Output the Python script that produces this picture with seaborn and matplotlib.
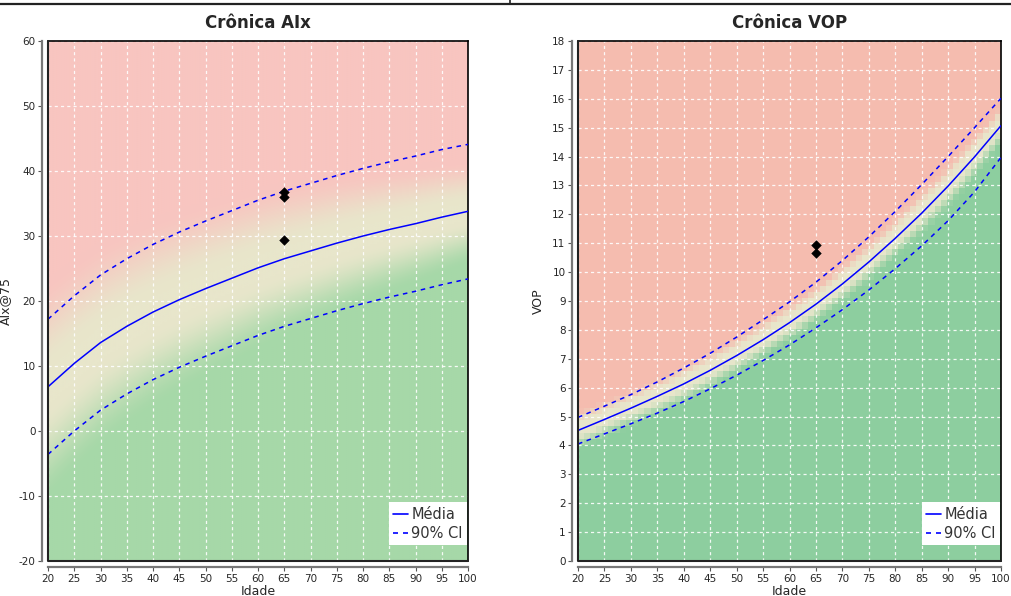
import numpy as np
import matplotlib
matplotlib.use("Agg")
import matplotlib.pyplot as plt
from matplotlib.colors import to_rgb
from matplotlib.lines import Line2D
import seaborn as sns

# Reference curves by age
ages = [20, 25, 30, 35, 40, 45, 50, 55, 60, 65, 70, 75, 80, 85, 90, 95, 100]

aix_mean = [6.8, 10.4, 13.6, 16.1, 18.3, 20.2, 21.9, 23.5, 25.1, 26.5, 27.7, 28.9, 30.0, 31.0, 31.9, 32.9, 33.8]
aix_upper = [17.2, 20.8, 24.0, 26.5, 28.7, 30.6, 32.3, 33.9, 35.5, 36.9, 38.1, 39.3, 40.4, 41.4, 42.3, 43.3, 44.1]
aix_lower = [-3.6, 0.0, 3.2, 5.7, 7.9, 9.8, 11.5, 13.1, 14.7, 16.1, 17.3, 18.5, 19.6, 20.6, 21.5, 22.5, 23.4]

vop_mean = [4.52, 4.90, 5.29, 5.70, 6.13, 6.60, 7.11, 7.66, 8.25, 8.89, 9.59, 10.35, 11.17, 12.04, 12.98, 13.99, 15.07]
vop_upper = [4.97, 5.36, 5.76, 6.20, 6.68, 7.19, 7.75, 8.35, 8.97, 9.65, 10.40, 11.22, 12.10, 13.03, 14.00, 15.00, 16.02]
vop_lower = [4.05, 4.40, 4.75, 5.12, 5.52, 5.96, 6.43, 6.94, 7.48, 8.07, 8.70, 9.38, 10.12, 10.91, 11.78, 12.78, 13.97]

# Patient measurements
aix_pt_age = [65, 65, 65]
aix_pt_val = [36.8, 36.05, 29.4]
vop_pt_age = [65, 65]
vop_pt_val = [10.94, 10.67]

sns.set_style("ticks")
plt.rcParams["font.family"] = ["DejaVu Sans"]
plt.rcParams["axes.unicode_minus"] = False

fig = plt.figure(figsize=(10.12, 5.96), dpi=100)
ax1 = fig.add_axes([48 / 1012, 35 / 596, 420 / 1012, 520 / 596])
ax2 = fig.add_axes([578 / 1012, 35 / 596, 423 / 1012, 520 / 596])

BEIGE = "#e8e6cb"


def background(ax, mean, upper, lower, ylim, red, green, spread, stops, interp, nx, ny):
    """Risk shading: green below the reference band, red above, beige in between."""
    xs = np.linspace(20, 100, nx)
    ys = np.linspace(ylim[0], ylim[1], ny)
    m = np.interp(xs, ages, mean)
    up = np.interp(xs, ages, upper) - m
    lo = m - np.interp(xs, ages, lower)
    # transition is wider for young ages and tighter for old ages
    u = (100 - xs) / 80
    f = spread[1] + (spread[0] - spread[1]) * u ** spread[2]
    Y = ys[:, None]
    z = np.where(Y >= m, (Y - m) / up, (Y - m) / lo) / f
    cols = [to_rgb(green), to_rgb(BEIGE), to_rgb(BEIGE), to_rgb(red)]
    # smooth easing between colour stops
    idx = np.clip(np.searchsorted(stops, z) - 1, 0, len(stops) - 2)
    s0 = np.array(stops)[idx]
    s1 = np.array(stops)[idx + 1]
    t = np.clip((z - s0) / (s1 - s0), 0, 1)
    t = t * t * (3 - 2 * t)
    img = np.zeros((ny, nx, 3))
    carr = np.array(cols)
    for c in range(3):
        img[..., c] = carr[idx, c] * (1 - t) + carr[idx + 1, c] * t
    ax.imshow(img, origin="lower", extent=[20, 100, ylim[0], ylim[1]],
              aspect="auto", interpolation=interp, zorder=0)


def draw_panel(ax, mean, upper, lower, pa, pv, ylim, yticks, ylabel, title,
               red, green, spread, stops, interp, nx, ny):
    background(ax, mean, upper, lower, ylim, red, green, spread, stops, interp, nx, ny)
    sns.lineplot(x=ages, y=mean, ax=ax, color="#0000ff", lw=1.1, zorder=3)
    for band in (upper, lower):
        sns.lineplot(x=ages, y=band, ax=ax, color="#0000ff", lw=1.1,
                     zorder=3).lines[-1].set_dashes((3, 3))
    sns.scatterplot(x=pa, y=pv, ax=ax, marker="D", s=24, color="black",
                    edgecolor="black", zorder=4)
    ax.set_xlim(20, 100)
    ax.set_ylim(*ylim)
    ax.set_xticks(range(20, 101, 5))
    ax.set_yticks(yticks)
    ax.grid(True, color="white", ls=(0, (2.5, 2.5)), lw=0.9, alpha=0.9)
    for gl in ax.get_xgridlines() + ax.get_ygridlines():
        gl.set_zorder(1)
    ax.tick_params(labelsize=7.5, length=3, width=0.8, color="#555555", pad=2)
    ax.set_xlabel("Idade", fontsize=9, labelpad=1)
    ax.set_ylabel(ylabel, fontsize=9, labelpad=5)
    ax.set_title(title, fontsize=12, fontweight="bold", pad=9)
    for side in ("left", "bottom"):
        ax.spines[side].set_position(("outward", 4))
        ax.spines[side].set_color("#777777")
        ax.spines[side].set_linewidth(1.6)
    for side in ("top", "right"):
        ax.spines[side].set_color("black")
        ax.spines[side].set_linewidth(1.2)
    ax.plot([0, 0, 1], [1, 0, 0], transform=ax.transAxes, color="#222222",
            lw=1.5, clip_on=False, zorder=5)
    handles = [Line2D([], [], color="#0000ff", lw=1.2),
               Line2D([], [], color="#0000ff", lw=1.2, dashes=(3, 3))]
    leg = ax.legend(handles, ["Média", "90% CI"], loc="lower right",
                    bbox_to_anchor=(0.998, 0.03), fontsize=10.5, frameon=True,
                    fancybox=False, framealpha=1, edgecolor="white",
                    handlelength=1.0, handletextpad=0.25, borderpad=0.3,
                    labelspacing=0.3, borderaxespad=0.0)
    leg.get_frame().set_linewidth(0)
    for t in leg.get_texts():
        t.set_color("#333333")


draw_panel(ax1, aix_mean, aix_upper, aix_lower, aix_pt_age, aix_pt_val,
           (-20, 60), range(-20, 61, 10), "AIx@75", "Crônica AIx",
           "#f8c5c0", "#a6d8a8", (1.45, 0.7, 1.0), [-1.15, -0.2, 0.2, 1.1],
           "bilinear", 160, 260)
draw_panel(ax2, vop_mean, vop_upper, vop_lower, vop_pt_age, vop_pt_val,
           (0, 18), range(0, 19, 1), "VOP", "Crônica VOP",
           "#f5bcaf", "#8dce9f", (1.5, 0.7, 2.0), [-1.0, -0.15, 0.3, 1.05],
           "nearest", 70, 85)

# top rule across the page
fig.add_artist(Line2D([0, 1], [1 - 4 / 596, 1 - 4 / 596], color="#222222", lw=1.6))
fig.add_artist(Line2D([510 / 1012, 510 / 1012], [1, 1 - 4 / 596], color="#222222", lw=1.2))

fig.savefig("out.png", dpi=100)
